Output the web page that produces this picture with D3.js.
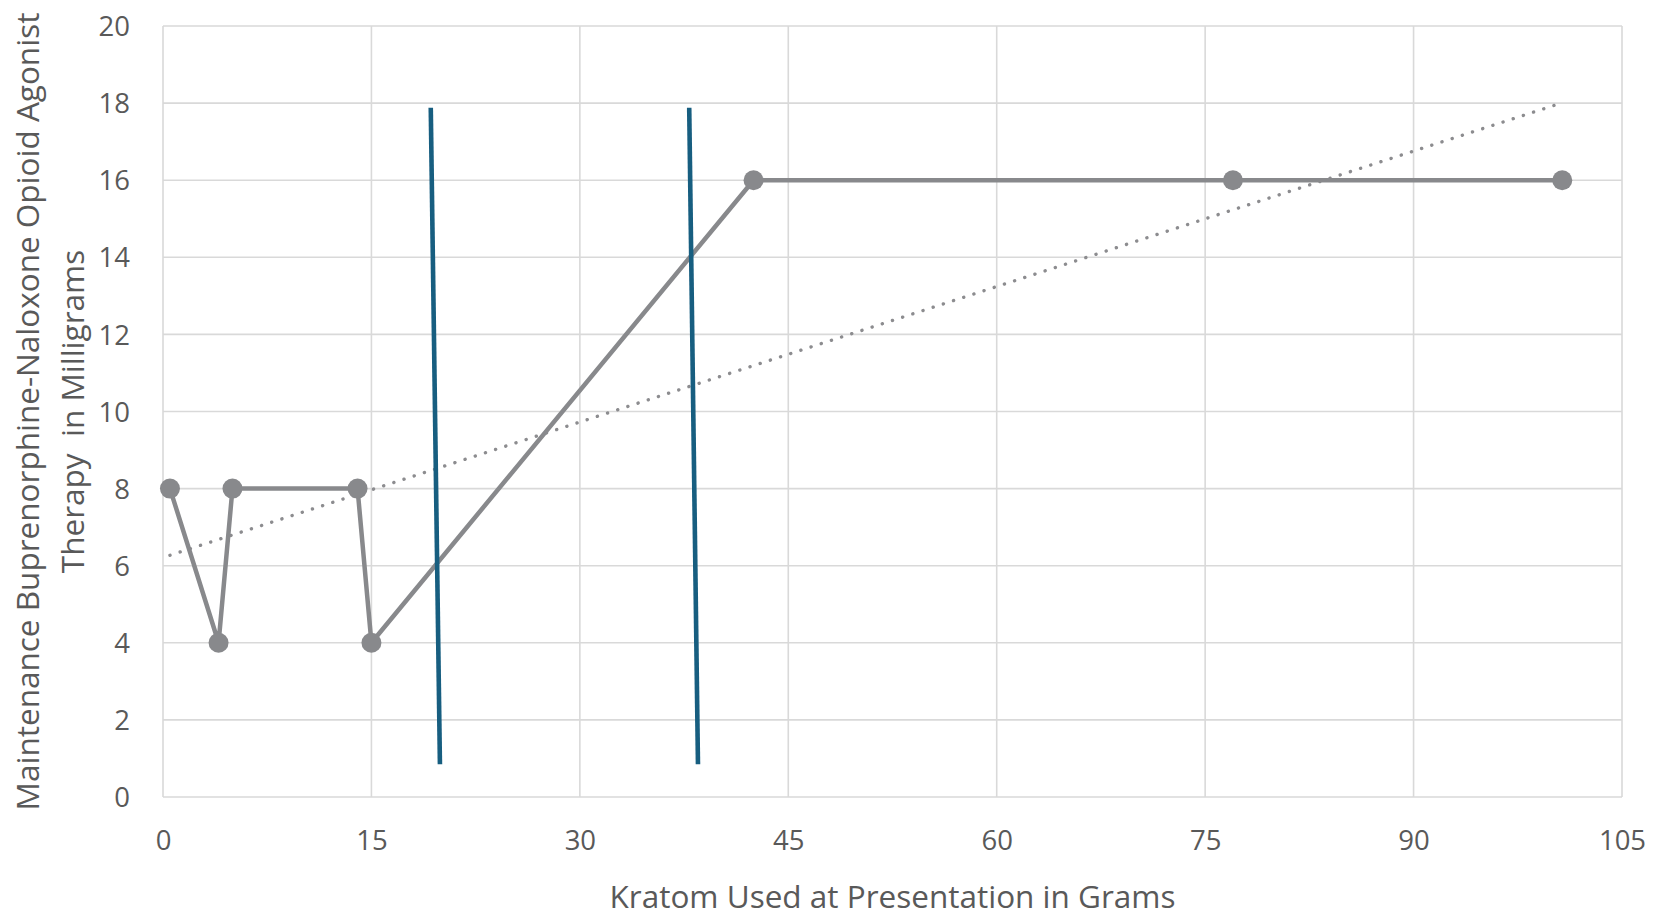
<!DOCTYPE html>
<html>
<head>
    <title>Kratom vs Maintenance Buprenorphine-Naloxone</title>
    <script src="https://d3js.org/d3.v7.min.js"></script>
    <style>
        body { margin: 0; background: #fff; }
        text { font-family: "Open Sans", sans-serif; fill: #595959; white-space: pre; }
    </style>
</head>
<body>
    <svg id="chart"></svg>
    <script>
        // observed points: kratom grams vs maintenance dose mg
        const kratomGrams = [0.5, 4, 5, 14, 15, 42.5, 77, 100.7];
        const doseMg = [8, 4, 8, 8, 4, 16, 16, 16];
        const xTicks = [0, 15, 30, 45, 60, 75, 90, 105];
        const yTicks = [0, 2, 4, 6, 8, 10, 12, 14, 16, 18, 20];
        // two hand-drawn vertical markers, [x top, y top, x bottom, y bottom]
        const markerLines = [
            [19.27, 17.88, 19.93, 0.85],
            [37.87, 17.88, 38.5, 0.85]
        ];
        const xTitle = "Kratom Used at Presentation in Grams";
        const yTitle = ["Maintenance Buprenorphine-Naloxone Opioid Agonist", "Therapy  in Milligrams"];

        const width = 1657, height = 912;
        const margin = { left: 163, right: 1622, top: 26, bottom: 797 };

        const svg = d3.select("#chart").attr("width", width).attr("height", height);

        const x = d3.scaleLinear().domain([0, 105]).range([margin.left, margin.right]);
        const y = d3.scaleLinear().domain([0, 20]).range([margin.bottom, margin.top]);

        // grid
        svg.append("g").selectAll("line").data(yTicks).enter().append("line")
            .attr("x1", margin.left).attr("x2", margin.right)
            .attr("y1", d => y(d)).attr("y2", d => y(d))
            .attr("stroke", "#d9d9d9").attr("stroke-width", 1.6);
        svg.append("g").selectAll("line").data(xTicks).enter().append("line")
            .attr("y1", margin.top).attr("y2", margin.bottom)
            .attr("x1", d => x(d)).attr("x2", d => x(d))
            .attr("stroke", "#d9d9d9").attr("stroke-width", 1.6);

        // tick labels via axes, domain and ticks hidden
        const xAxis = svg.append("g").attr("transform", `translate(0,${margin.bottom})`)
            .call(d3.axisBottom(x).tickValues(xTicks).tickSize(0).tickPadding(43));
        const yAxis = svg.append("g").attr("transform", `translate(${margin.left},0)`)
            .call(d3.axisLeft(y).tickValues(yTicks).tickSize(0).tickPadding(33));
        [xAxis, yAxis].forEach(a => {
            a.select(".domain").remove();
            a.selectAll("text").style("font-size", "27.5px").attr("fill", "#595959")
                .style("font-family", "'Open Sans', sans-serif");
        });
        yAxis.selectAll("text").attr("dy", "0.35em");
        xAxis.selectAll("text").attr("dy", "0.35em");

        // trendline: least squares fit of the observed points
        const mx = d3.mean(kratomGrams), my = d3.mean(doseMg);
        const sxy = d3.sum(kratomGrams, (v, i) => (v - mx) * (doseMg[i] - my));
        const sxx = d3.sum(kratomGrams, v => (v - mx) * (v - mx));
        const slope = sxy / sxx, icpt = my - slope * mx;
        const xMin = d3.min(kratomGrams), xMax = d3.max(kratomGrams);
        svg.append("line")
            .attr("x1", x(xMin)).attr("y1", y(icpt + slope * xMin))
            .attr("x2", x(xMax)).attr("y2", y(icpt + slope * xMax))
            .attr("stroke", "#8c8c8f").attr("stroke-width", 3.4)
            .attr("stroke-linecap", "round").attr("stroke-dasharray", "0.1 10.6");

        const pts = kratomGrams.map((v, i) => [v, doseMg[i]]);
        const line = d3.line().x(d => x(d[0])).y(d => y(d[1]));
        svg.append("path").datum(pts).attr("d", line)
            .attr("fill", "none").attr("stroke", "#88898c").attr("stroke-width", 4.5)
            .attr("stroke-linejoin", "round");
        svg.append("g").selectAll("circle").data(pts).enter().append("circle")
            .attr("cx", d => x(d[0])).attr("cy", d => y(d[1])).attr("r", 10)
            .attr("fill", "#88898c");

        // teal vertical marker lines
        svg.append("g").selectAll("line").data(markerLines).enter().append("line")
            .attr("x1", d => x(d[0])).attr("y1", d => y(d[1]))
            .attr("x2", d => x(d[2])).attr("y2", d => y(d[3]))
            .attr("stroke", "#175e80").attr("stroke-width", 4.6);

        // titles
        svg.append("text").attr("x", (margin.left + margin.right) / 2).attr("y", 895)
            .attr("text-anchor", "middle").attr("dominant-baseline", "central")
            .style("font-size", "31.5px").text(xTitle);
        svg.append("g").selectAll("text").data(yTitle).enter().append("text")
            .attr("transform", (d, i) => `translate(${[26, 71][i]},${(margin.top + margin.bottom) / 2}) rotate(-90)`)
            .attr("text-anchor", "middle").attr("dominant-baseline", "central")
            .style("font-size", "31.5px").text(d => d);
    </script>
</body>
</html>
